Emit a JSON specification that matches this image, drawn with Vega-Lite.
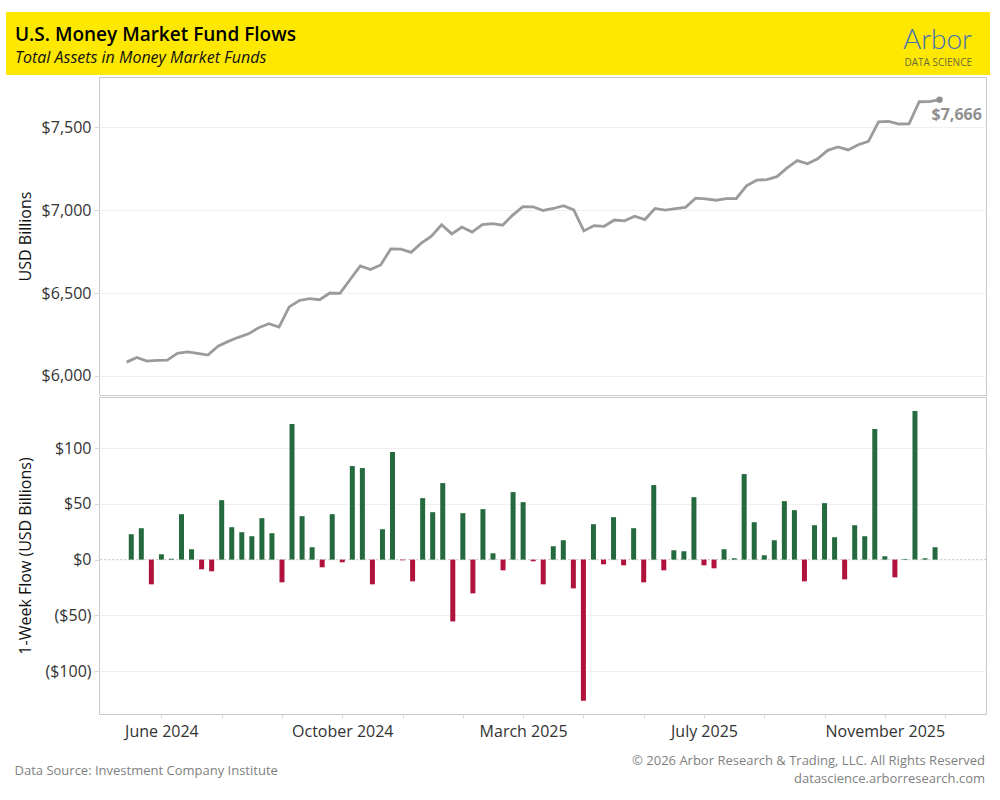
{
  "$schema": "https://vega.github.io/schema/vega-lite/v6.json",
  "background": "white",
  "padding": {"left": 6, "top": 12, "right": 5, "bottom": 5},
  "config": {
    "font": "Open Sans",
    "view": {"stroke": "#c8c8c8"},
    "axis": {"labelFont": "Open Sans", "titleFont": "Open Sans", "gridColor": "#efefef", "domain": false}
  },
  "datasets": {
    "mmf": [
      {"date": "2024-06-05", "flow": 22.8, "total": 6083.3},
      {"date": "2024-06-12", "flow": 28.2, "total": 6111.5},
      {"date": "2024-06-19", "flow": -22.2, "total": 6089.3},
      {"date": "2024-06-26", "flow": 4.8, "total": 6094.1},
      {"date": "2024-07-03", "flow": 0.8, "total": 6094.9},
      {"date": "2024-07-10", "flow": 40.8, "total": 6135.7},
      {"date": "2024-07-17", "flow": 9.3, "total": 6145.0},
      {"date": "2024-07-24", "flow": -8.7, "total": 6136.3},
      {"date": "2024-07-31", "flow": -10.5, "total": 6125.8},
      {"date": "2024-08-07", "flow": 53.4, "total": 6179.2},
      {"date": "2024-08-14", "flow": 29.1, "total": 6208.3},
      {"date": "2024-08-21", "flow": 24.6, "total": 6232.9},
      {"date": "2024-08-28", "flow": 21.0, "total": 6253.9},
      {"date": "2024-09-04", "flow": 37.2, "total": 6291.1},
      {"date": "2024-09-11", "flow": 23.7, "total": 6314.8},
      {"date": "2024-09-18", "flow": -20.4, "total": 6294.4},
      {"date": "2024-09-25", "flow": 121.8, "total": 6416.2},
      {"date": "2024-10-02", "flow": 39.0, "total": 6455.2},
      {"date": "2024-10-09", "flow": 11.1, "total": 6466.3},
      {"date": "2024-10-16", "flow": -6.9, "total": 6459.4},
      {"date": "2024-10-23", "flow": 40.8, "total": 6500.2},
      {"date": "2024-10-30", "flow": -2.4, "total": 6497.8},
      {"date": "2024-11-06", "flow": 84.0, "total": 6581.8},
      {"date": "2024-11-13", "flow": 82.2, "total": 6664.0},
      {"date": "2024-11-20", "flow": -22.2, "total": 6641.8},
      {"date": "2024-11-27", "flow": 27.3, "total": 6669.1},
      {"date": "2024-12-04", "flow": 96.6, "total": 6765.7},
      {"date": "2024-12-11", "flow": -0.6, "total": 6765.1},
      {"date": "2024-12-18", "flow": -19.5, "total": 6745.6},
      {"date": "2024-12-25", "flow": 55.2, "total": 6800.8},
      {"date": "2025-01-01", "flow": 42.6, "total": 6843.4},
      {"date": "2025-01-08", "flow": 68.7, "total": 6912.1},
      {"date": "2025-01-15", "flow": -55.5, "total": 6856.6},
      {"date": "2025-01-22", "flow": 41.7, "total": 6898.3},
      {"date": "2025-01-29", "flow": -30.3, "total": 6868.0},
      {"date": "2025-02-05", "flow": 45.3, "total": 6913.3},
      {"date": "2025-02-12", "flow": 5.7, "total": 6919.0},
      {"date": "2025-02-19", "flow": -9.6, "total": 6909.4},
      {"date": "2025-02-26", "flow": 60.6, "total": 6970.0},
      {"date": "2025-03-05", "flow": 51.6, "total": 7021.6},
      {"date": "2025-03-12", "flow": -1.5, "total": 7020.1},
      {"date": "2025-03-19", "flow": -22.2, "total": 6997.9},
      {"date": "2025-03-26", "flow": 12.0, "total": 7009.9},
      {"date": "2025-04-02", "flow": 17.4, "total": 7027.3},
      {"date": "2025-04-09", "flow": -25.8, "total": 7001.5},
      {"date": "2025-04-16", "flow": -126.6, "total": 6874.9},
      {"date": "2025-04-23", "flow": 31.8, "total": 6906.7},
      {"date": "2025-04-30", "flow": -4.2, "total": 6902.5},
      {"date": "2025-05-07", "flow": 38.1, "total": 6940.6},
      {"date": "2025-05-14", "flow": -5.1, "total": 6935.5},
      {"date": "2025-05-21", "flow": 28.2, "total": 6963.7},
      {"date": "2025-05-28", "flow": -20.4, "total": 6943.3},
      {"date": "2025-06-04", "flow": 66.9, "total": 7010.2},
      {"date": "2025-06-11", "flow": -9.6, "total": 7000.6},
      {"date": "2025-06-18", "flow": 8.4, "total": 7009.0},
      {"date": "2025-06-25", "flow": 7.5, "total": 7016.5},
      {"date": "2025-07-02", "flow": 56.1, "total": 7072.6},
      {"date": "2025-07-09", "flow": -5.1, "total": 7067.5},
      {"date": "2025-07-16", "flow": -7.8, "total": 7059.7},
      {"date": "2025-07-23", "flow": 9.3, "total": 7069.0},
      {"date": "2025-07-30", "flow": 1.2, "total": 7070.2},
      {"date": "2025-08-06", "flow": 76.8, "total": 7147.0},
      {"date": "2025-08-13", "flow": 33.6, "total": 7180.6},
      {"date": "2025-08-20", "flow": 3.9, "total": 7184.5},
      {"date": "2025-08-27", "flow": 17.4, "total": 7201.9},
      {"date": "2025-09-03", "flow": 52.5, "total": 7254.4},
      {"date": "2025-09-10", "flow": 44.4, "total": 7298.8},
      {"date": "2025-09-17", "flow": -19.5, "total": 7279.3},
      {"date": "2025-09-24", "flow": 30.9, "total": 7310.2},
      {"date": "2025-10-01", "flow": 50.7, "total": 7360.9},
      {"date": "2025-10-08", "flow": 20.1, "total": 7381.0},
      {"date": "2025-10-15", "flow": -17.7, "total": 7363.3},
      {"date": "2025-10-22", "flow": 30.9, "total": 7394.2},
      {"date": "2025-10-29", "flow": 21.0, "total": 7415.2},
      {"date": "2025-11-05", "flow": 117.3, "total": 7532.5},
      {"date": "2025-11-12", "flow": 3.0, "total": 7535.5},
      {"date": "2025-11-19", "flow": -15.9, "total": 7519.6},
      {"date": "2025-11-26", "flow": 0.6, "total": 7520.2},
      {"date": "2025-12-03", "flow": 133.5, "total": 7653.7},
      {"date": "2025-12-10", "flow": 1.2, "total": 7654.9},
      {"date": "2025-12-17", "flow": 11.1, "total": 7666.0}
    ]
  },
  "title": {
    "text": ["© 2026 Arbor Research & Trading, LLC. All Rights Reserved", "datascience.arborresearch.com"],
    "orient": "bottom", "anchor": "end", "frame": "bounds", "offset": -23, "dx": -5,
    "fontSize": 13, "fontWeight": "normal", "color": "#7f7f7f", "lineHeight": 18, "font": "Open Sans"
  },
  "spacing": 1,
  "vconcat": [
    {
      "spacing": 0,
      "hconcat": [
        {
          "width": 860, "height": 63,
          "view": {"fill": "#FFE800", "stroke": null},
          "data": {"values": []},
          "mark": "point",
          "title": {
            "text": "U.S. Money Market Fund Flows",
            "subtitle": "Total Assets in Money Market Funds",
            "anchor": "start", "frame": "group", "orient": "top", "offset": -54, "dx": 9,
            "fontSize": 19, "fontWeight": 600, "color": "#000000", "font": "Open Sans",
            "subtitleFontSize": 16, "subtitleFontStyle": "italic", "subtitleColor": "#111111",
            "subtitleFont": "Open Sans", "subtitlePadding": 5
          }
        },
        {
          "width": 124, "height": 63,
          "view": {"fill": "#FFE800", "stroke": null},
          "data": {"values": []},
          "mark": "point",
          "title": {
            "text": "Arbor",
            "subtitle": "DATA SCIENCE",
            "anchor": "end", "frame": "group", "orient": "top", "offset": -56, "dx": -18,
            "fontSize": 28, "fontWeight": 300, "color": "#3f72b5", "font": "Lato",
            "subtitleFontSize": 10, "subtitleColor": "#6b6a3c", "subtitleFont": "Open Sans", "subtitlePadding": 3
          }
        }
      ]
    },
    {
      "spacing": 6,
      "hconcat": [
        {
          "width": 1, "height": 1,
          "view": {"stroke": null},
          "data": {"values": []},
          "mark": "point"
        },
        {
          "spacing": 0,
          "vconcat": [
            {
              "width": 887, "height": 318,
              "data": {"name": "mmf"},
              "encoding": {
                "x": {"field": "date", "type": "temporal",
                  "scale": {"type": "utc", "domain": [{"year": 2024, "month": 5, "date": 17, "utc": true}, {"year": 2026, "month": 1, "date": 18, "utc": true}]},
                  "axis": null},
                "y": {"field": "total", "type": "quantitative",
                  "scale": {"domain": [5885, 7803], "nice": false, "zero": false},
                  "axis": {"values": [6000, 6500, 7000, 7500], "format": "$,.0f", "title": "USD Billions",
                    "tickSize": 5, "tickColor": "#d9d9d9", "labelPadding": 3, "labelFontSize": 16, "labelColor": "#333333",
                    "titleFontSize": 16, "titleFontWeight": "normal", "titleColor": "#111111", "titlePadding": 8, "grid": true}}
              },
              "layer": [
                {"mark": {"type": "line", "color": "#9b9b9b", "strokeWidth": 2.8}},
                {"transform": [{"filter": "datum.total >= 7666"}],
                  "mark": {"type": "point", "filled": true, "color": "#8f8f8f", "size": 40, "opacity": 1}},
                {"transform": [{"filter": "datum.total >= 7666"}],
                  "mark": {"type": "text", "align": "left", "baseline": "middle", "dx": -8, "dy": 15, "fontSize": 16, "fontWeight": "bold", "color": "#8f8f8f"},
                  "encoding": {"text": {"field": "total", "type": "quantitative", "format": "$,.0f"}}}
              ]
            },
            {
              "width": 887, "height": 317,
              "data": {"name": "mmf"},
              "layer": [
                {
                  "data": {"values": [{}]},
                  "mark": {"type": "rule", "color": "#bdbdbd", "strokeDash": [1.5, 2.5], "strokeWidth": 1.2},
                  "encoding": {
                    "y": {"datum": 0, "type": "quantitative",
                      "scale": {"domain": [-138.6, 146], "nice": false},
                      "axis": {"values": [-100, -50, 0, 50, 100],
                        "labelExpr": "datum.value < 0 ? '($' + format(-datum.value, ',') + ')' : '$' + format(datum.value, ',')",
                        "title": "1-Week Flow (USD Billions)",
                        "tickSize": 5, "tickColor": "#d9d9d9", "labelPadding": 3, "labelFontSize": 16, "labelColor": "#333333",
                        "titleFontSize": 16, "titleFontWeight": "normal", "titleColor": "#111111", "titlePadding": 11, "grid": true,
                        "gridOpacity": {"condition": {"test": "datum.value === 0", "value": 0}, "value": 1}}}
                  }
                },
                {
                  "mark": {"type": "bar", "size": 5},
                  "encoding": {
                    "x": {"field": "date", "type": "temporal",
                      "scale": {"type": "utc", "domain": [{"year": 2024, "month": 5, "date": 17, "utc": true}, {"year": 2026, "month": 1, "date": 18, "utc": true}]},
                      "axis": {
                        "values": [
                          {"year": 2024, "month": 6, "date": 26, "utc": true},
                          {"year": 2024, "month": 8, "date": 7, "utc": true},
                          {"year": 2024, "month": 9, "date": 18, "utc": true},
                          {"year": 2024, "month": 10, "date": 30, "utc": true},
                          {"year": 2024, "month": 12, "date": 11, "utc": true},
                          {"year": 2025, "month": 1, "date": 22, "utc": true},
                          {"year": 2025, "month": 3, "date": 5, "utc": true},
                          {"year": 2025, "month": 4, "date": 16, "utc": true},
                          {"year": 2025, "month": 5, "date": 28, "utc": true},
                          {"year": 2025, "month": 7, "date": 9, "utc": true},
                          {"year": 2025, "month": 8, "date": 20, "utc": true},
                          {"year": 2025, "month": 10, "date": 1, "utc": true},
                          {"year": 2025, "month": 11, "date": 12, "utc": true},
                          {"year": 2025, "month": 12, "date": 24, "utc": true}
                        ],
                        "format": "%B %Y",
                        "labelExpr": "indexof([26, 30, 5, 9, 12], utcdate(datum.value)) >= 0 ? datum.label : ''",
                        "labelOverlap": false, "labelFlush": false,
                        "labelFontSize": 16, "labelColor": "#333333", "labelPadding": 5,
                        "tickSize": 4, "tickColor": "#d9d9d9", "grid": false,
                        "title": "Data Source: Investment Company Institute",
                        "titleAnchor": "start", "titleAlign": "left", "titleX": -85, "titleY": 56, "titleBaseline": "middle",
                        "titleFontSize": 13, "titleFontWeight": "normal", "titleColor": "#7f7f7f"
                      }},
                    "y": {"field": "flow", "type": "quantitative", "scale": {"domain": [-138.6, 146], "nice": false}},
                    "color": {"condition": {"test": "datum.flow < 0", "value": "#b0123b"}, "value": "#246a3e"}
                  }
                }
              ]
            }
          ]
        }
      ]
    }
  ]
}
